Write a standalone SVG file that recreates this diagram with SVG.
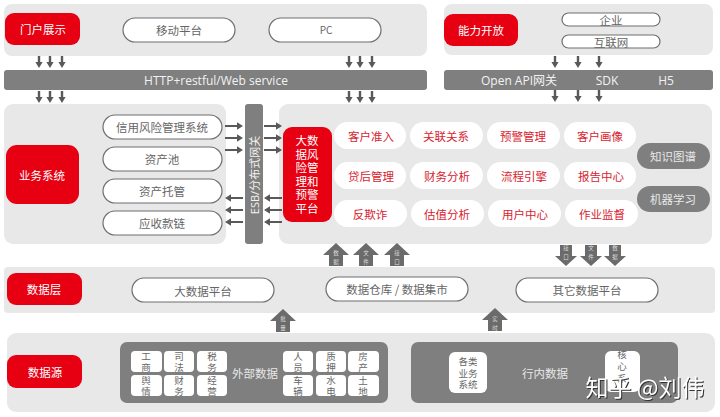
<svg xmlns="http://www.w3.org/2000/svg" width="720" height="417" viewBox="0 0 720 417">
<style>
text{font-family:"Noto Sans CJK SC","Noto Sans",sans-serif;text-anchor:middle;dominant-baseline:central}
.panel{fill:#e8e8e8}
.red{fill:#e60012}
.bar{fill:#7f7f7f}
.pill{fill:#fff;stroke:#6f6f6f;stroke-width:1.2}
.wp{fill:#fff}
.card{fill:#fff}
.t{font-size:11.5px;fill:#666}
.tw{font-size:11.5px;fill:#fff}
.tl{font-size:11.5px;fill:#e8e8e8}
.tb{font-size:12px;fill:#f2f2f2;font-family:"Open Sans","Noto Sans CJK SC",sans-serif}
.tr{font-size:11.5px;fill:#d8232f}
.stack{font-family:"Liberation Sans","Noto Sans CJK SC",sans-serif}
.ts{font-size:9.5px;fill:#666}
.ta{font-size:5.5px;fill:#ddd}
.wm{font-size:23px;fill:#fff;filter:drop-shadow(1px 1px .6px #333)}
.thin{fill:#595959}
.block{fill:#6b6b6b}
</style>
<defs>
<path id="ad" d="M-1.2 0H1.2V6H3.6L0 12L-3.6 6H-1.2Z"/>
<path id="ar" d="M0 -1.1H12V-3.8L18 0L12 3.8V1.1H0Z"/>
<path id="al" d="M18 -1.1H6V-3.8L0 0L6 3.8V1.1H18Z"/>
<path id="bu" d="M0 0L13 12H7V23H-7V12H-13Z"/>
<path id="bd" d="M0 21L-11 11H-6V0H6V11H11Z"/>
</defs>

<g id="panel-portal"><rect class="panel" x="4" y="4" width="423" height="52" rx="8"/></g>
<g id="panel-open"><rect class="panel" x="444" y="4" width="269" height="51" rx="8"/></g>
<g id="panel-biz"><rect class="panel" x="4" y="104" width="222" height="140" rx="9"/></g>
<g id="panel-risk"><rect class="panel" x="279" y="104" width="433" height="140" rx="9"/></g>
<g id="panel-layer"><rect class="panel" x="4" y="267" width="711" height="46" rx="4"/></g>
<g id="panel-source"><rect class="panel" x="7" y="333" width="708" height="79" rx="9"/></g>

<g id="connectors" class="thin">
<use href="#ad" x="39" y="56"/><use href="#ad" x="50" y="56"/><use href="#ad" x="62" y="56"/>
<use href="#ad" x="349" y="56"/><use href="#ad" x="360" y="56"/><use href="#ad" x="372" y="56"/>
<use href="#ad" x="39" y="91"/><use href="#ad" x="50" y="91"/><use href="#ad" x="62" y="91"/>
<use href="#ad" x="349" y="91"/><use href="#ad" x="360" y="91"/><use href="#ad" x="372" y="91"/>
<use href="#ad" x="555" y="56"/><use href="#ad" x="578" y="56"/><use href="#ad" x="599" y="56"/>
<use href="#ad" x="555" y="90"/><use href="#ad" x="578" y="90"/><use href="#ad" x="599" y="90"/>
<use href="#ar" x="225" y="126"/><use href="#ar" x="225" y="138"/><use href="#ar" x="225" y="150"/>
<use href="#ar" x="264" y="126"/><use href="#ar" x="264" y="138"/><use href="#ar" x="264" y="150"/>
<use href="#al" x="225" y="198"/><use href="#al" x="225" y="210"/><use href="#al" x="225" y="222"/>
<use href="#al" x="264" y="198"/><use href="#al" x="264" y="210"/><use href="#al" x="264" y="222"/>
<g class="block">
<use href="#bu" x="336" y="243"/><use href="#bu" x="366" y="243"/><use href="#bu" x="397" y="243"/>
<use href="#bd" x="566" y="245"/><use href="#bd" x="591" y="245"/><use href="#bd" x="615" y="245"/>
<use href="#bu" x="283" y="309"/><use href="#bu" x="495" y="308"/>
</g>
<text class="ta stack"><tspan x="336" y="253">数</tspan><tspan x="336" dy="8.5">据</tspan></text>
<text class="ta stack"><tspan x="366" y="253">文</tspan><tspan x="366" dy="8.5">件</tspan></text>
<text class="ta stack"><tspan x="397" y="253">接</tspan><tspan x="397" dy="8.5">口</tspan></text>
<text class="ta stack"><tspan x="566" y="248">接</tspan><tspan x="566" dy="8.5">口</tspan></text>
<text class="ta stack"><tspan x="591" y="248">文</tspan><tspan x="591" dy="8.5">件</tspan></text>
<text class="ta stack"><tspan x="615" y="248">数</tspan><tspan x="615" dy="8.5">据</tspan></text>
<text class="ta stack"><tspan x="283" y="319">批</tspan><tspan x="283" dy="8.5">量</tspan></text>
<text class="ta stack"><tspan x="495" y="319">实</tspan><tspan x="495" dy="8.5">时</tspan></text>
</g>

<g id="portal"><rect class="red" x="5" y="13" width="75" height="32" rx="9"/><text class="tw" x="43" y="29">门户展示</text></g>
<g id="mobile"><rect class="pill" x="123" y="18" width="112" height="24" rx="12"/><text class="t" x="179" y="30">移动平台</text></g>
<g id="pc"><rect class="pill" x="269" y="18" width="112" height="24" rx="12"/><text class="t" x="326" y="29" style="font-size:10px">PC</text></g>
<g id="http"><rect class="bar" x="4" y="70" width="423" height="20" rx="3"/><text class="tb" x="216" y="80">HTTP+restful/Web service</text></g>

<g id="open"><rect class="red" x="444" y="14" width="74" height="32" rx="9"/><text class="tw" x="481" y="30">能力开放</text></g>
<g id="ent"><rect class="pill" x="562" y="13" width="98" height="13" rx="6.5"/><text class="t" x="611" y="19.5">企业</text></g>
<g id="net"><rect class="pill" x="562" y="35" width="98" height="13" rx="6.5"/><text class="t" x="611" y="41.5">互联网</text></g>
<g id="api"><rect class="bar" x="444" y="70" width="269" height="20" rx="3"/>
<text class="tb" x="519" y="80">Open API网关</text><text class="tb" x="607" y="80">SDK</text><text class="tb" x="666" y="80">H5</text></g>

<g id="biz"><rect class="red" x="6" y="145" width="73" height="59" rx="11"/><text class="tw" x="42" y="175">业务系统</text></g>
<g id="b1"><rect class="pill" x="103" y="115" width="119" height="24" rx="12"/><text class="t" x="162" y="127">信用风险管理系统</text></g>
<g id="b2"><rect class="pill" x="103" y="147" width="119" height="24" rx="12"/><text class="t" x="162" y="159">资产池</text></g>
<g id="b3"><rect class="pill" x="103" y="179" width="119" height="24" rx="12"/><text class="t" x="162" y="191">资产托管</text></g>
<g id="b4"><rect class="pill" x="103" y="211" width="119" height="24" rx="12"/><text class="t" x="162" y="223">应收款链</text></g>
<g id="esb"><rect class="bar" x="245" y="104" width="18" height="140" rx="3"/><text class="tb" transform="translate(254 175) rotate(-90)" style="font-size:11px">ESB/分布式网关</text></g>

<g id="risk"><rect class="red" x="283" y="127" width="49" height="95" rx="9"/>
<text class="tw stack"><tspan x="307" y="141">大数</tspan><tspan x="307" dy="13.6">据风</tspan><tspan x="307" dy="13.6">险管</tspan><tspan x="307" dy="13.6">理和</tspan><tspan x="307" dy="13.6">预警</tspan><tspan x="307" dy="13.6">平台</tspan></text></g>

<g id="r11"><rect class="wp" x="334" y="122" width="72" height="27" rx="13.5"/><text class="tr" x="371" y="136">客户准入</text></g>
<g id="r12"><rect class="wp" x="410" y="122" width="73" height="27" rx="13.5"/><text class="tr" x="446" y="136">关联关系</text></g>
<g id="r13"><rect class="wp" x="487" y="122" width="73" height="27" rx="13.5"/><text class="tr" x="523" y="136">预警管理</text></g>
<g id="r14"><rect class="wp" x="564" y="122" width="72" height="27" rx="13.5"/><text class="tr" x="600" y="136">客户画像</text></g>
<g id="r21"><rect class="wp" x="334" y="162" width="72" height="27" rx="13.5"/><text class="tr" x="371" y="176">贷后管理</text></g>
<g id="r22"><rect class="wp" x="410" y="162" width="73" height="27" rx="13.5"/><text class="tr" x="447" y="176">财务分析</text></g>
<g id="r23"><rect class="wp" x="487" y="162" width="73" height="27" rx="13.5"/><text class="tr" x="524" y="176">流程引擎</text></g>
<g id="r24"><rect class="wp" x="564" y="162" width="72" height="27" rx="13.5"/><text class="tr" x="601" y="176">报告中心</text></g>
<g id="r31"><rect class="wp" x="334" y="200" width="73" height="27" rx="13.5"/><text class="tr" x="370" y="214">反欺诈</text></g>
<g id="r32"><rect class="wp" x="411" y="200" width="73" height="27" rx="13.5"/><text class="tr" x="447" y="214">估值分析</text></g>
<g id="r33"><rect class="wp" x="488" y="200" width="73" height="27" rx="13.5"/><text class="tr" x="525" y="214">用户中心</text></g>
<g id="r34"><rect class="wp" x="565" y="200" width="73" height="27" rx="13.5"/><text class="tr" x="602" y="214">作业监督</text></g>
<g id="kg"><rect class="bar" x="637" y="143" width="73" height="26" rx="13"/><text class="tl" x="673" y="156">知识图谱</text></g>
<g id="ml"><rect class="bar" x="637" y="186" width="73" height="26" rx="13"/><text class="tl" x="673" y="199">机器学习</text></g>

<g id="layer"><rect class="red" x="7" y="273" width="75" height="32" rx="9"/><text class="tw" x="44" y="289">数据层</text></g>
<g id="bigdata"><rect class="pill" x="132" y="278" width="142" height="24" rx="12"/><text class="t" x="203" y="291">大数据平台</text></g>
<g id="dw"><rect class="pill" x="326" y="277" width="142" height="24" rx="12"/><text class="t" x="397" y="289">数据仓库 / 数据集市</text></g>
<g id="other"><rect class="pill" x="516" y="278" width="142" height="24" rx="12"/><text class="t" x="587" y="290">其它数据平台</text></g>

<g id="source"><rect class="red" x="7" y="355" width="75" height="33" rx="9"/><text class="tw" x="45" y="372">数据源</text></g>
<g id="external"><rect class="bar" x="120" y="342" width="268" height="61" rx="7"/><text class="tl" x="255" y="373">外部数据</text></g>
<g id="c1"><rect class="card" x="131" y="351" width="31" height="21" rx="4"/><text class="ts stack"><tspan x="146" y="356">工</tspan><tspan x="146" dy="11">商</tspan></text></g>
<g id="c2"><rect class="card" x="164" y="351" width="30" height="21" rx="4"/><text class="ts stack"><tspan x="179" y="356">司</tspan><tspan x="179" dy="11">法</tspan></text></g>
<g id="c3"><rect class="card" x="197" y="351" width="30" height="21" rx="4"/><text class="ts stack"><tspan x="212" y="356">税</tspan><tspan x="212" dy="11">务</tspan></text></g>
<g id="c4"><rect class="card" x="131" y="375" width="31" height="21" rx="4"/><text class="ts stack"><tspan x="146" y="380">舆</tspan><tspan x="146" dy="11">情</tspan></text></g>
<g id="c5"><rect class="card" x="164" y="375" width="30" height="21" rx="4"/><text class="ts stack"><tspan x="179" y="380">财</tspan><tspan x="179" dy="11">务</tspan></text></g>
<g id="c6"><rect class="card" x="197" y="375" width="30" height="21" rx="4"/><text class="ts stack"><tspan x="212" y="380">经</tspan><tspan x="212" dy="11">营</tspan></text></g>
<g id="c7"><rect class="card" x="283" y="351" width="30" height="21" rx="4"/><text class="ts stack"><tspan x="298" y="356">人</tspan><tspan x="298" dy="11">员</tspan></text></g>
<g id="c8"><rect class="card" x="316" y="351" width="30" height="21" rx="4"/><text class="ts stack"><tspan x="331" y="356">质</tspan><tspan x="331" dy="11">押</tspan></text></g>
<g id="c9"><rect class="card" x="348" y="351" width="31" height="21" rx="4"/><text class="ts stack"><tspan x="363" y="356">房</tspan><tspan x="363" dy="11">产</tspan></text></g>
<g id="c10"><rect class="card" x="283" y="375" width="30" height="21" rx="4"/><text class="ts stack"><tspan x="298" y="380">车</tspan><tspan x="298" dy="11">辆</tspan></text></g>
<g id="c11"><rect class="card" x="316" y="375" width="30" height="21" rx="4"/><text class="ts stack"><tspan x="331" y="380">水</tspan><tspan x="331" dy="11">电</tspan></text></g>
<g id="c12"><rect class="card" x="348" y="375" width="31" height="21" rx="4"/><text class="ts stack"><tspan x="363" y="380">土</tspan><tspan x="363" dy="11">地</tspan></text></g>

<g id="internal"><rect class="bar" x="411" y="342" width="267" height="61" rx="7"/><text class="tl" x="545" y="373">行内数据</text></g>
<g id="biz-sys"><rect class="card" x="449" y="352" width="38" height="41" rx="6"/><text class="ts stack"><tspan x="468" y="361">各类</tspan><tspan x="468" dy="11.5">业务</tspan><tspan x="468" dy="11.5">系统</tspan></text></g>
<g id="core"><rect class="card" x="605" y="351" width="35" height="41" rx="6"/><text class="ts stack"><tspan x="622" y="354">核</tspan><tspan x="622" dy="12">心</tspan><tspan x="622" dy="12">系</tspan></text></g>

<g id="watermark"><text class="wm" x="645" y="386">知乎 @刘伟</text></g>
</svg>
